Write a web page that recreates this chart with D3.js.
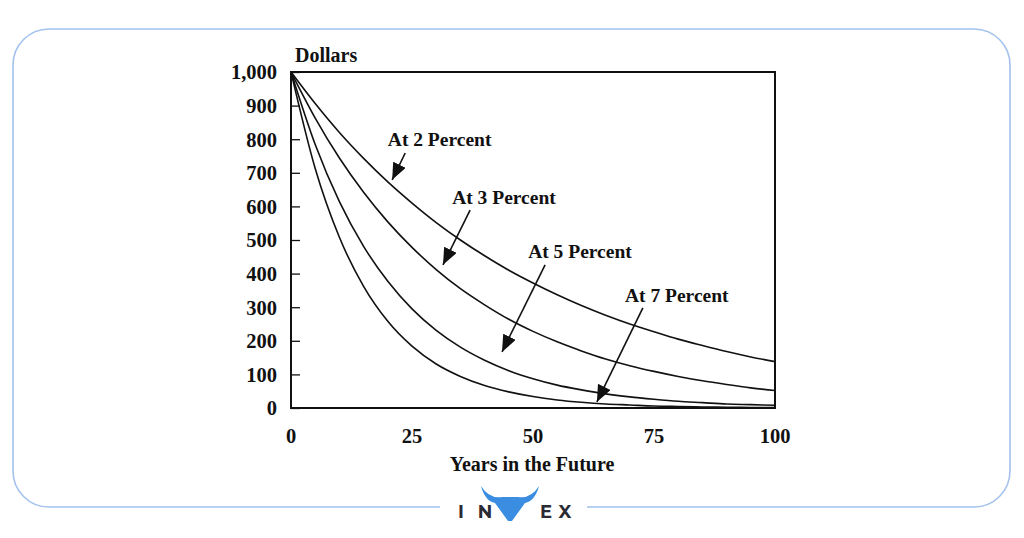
<!DOCTYPE html>
<html><head><meta charset="utf-8">
<script src="https://cdn.jsdelivr.net/npm/d3@7"></script>
<style>
html,body{margin:0;padding:0;background:#fff;}
svg{display:block;}
text{font-family:"Liberation Serif","Times New Roman",serif;font-weight:bold;fill:#111;}
</style></head>
<body>
<svg id="chart" width="1024" height="538"></svg>
<script>
// ---- data ----
const years = [0,5,10,15,20,25,30,35,40,45,50,55,60,65,70,75,80,85,90,95,100];
const at2 = [1000,906,820,743,673,610,552,500,453,410,372,337,305,276,250,227,205,186,168,152,138];
const at3 = [1000,863,744,642,554,478,412,355,307,264,228,197,170,146,126,109,94,81,70,60,52];
const at5 = [1000,784,614,481,377,295,231,181,142,111,87,68,54,42,33,26,20,16,12,10,8];
const at7 = [1000,713,508,362,258,184,131,94,67,48,34,24,17,12,9,6,4.5,3.2,2.3,1.6,1.2];
const seriesList = [at2, at3, at5, at7];
const yTicks = [0,100,200,300,400,500,600,700,800,900,1000];
const xTicks = [0,25,50,75,100];
const labels = ["At 2 Percent","At 3 Percent","At 5 Percent","At 7 Percent"];
const labelAt = [[20.0,780],[33.3,607],[49.0,446],[69.0,315]];      // [year, dollars] of label start
const arrowFrom = [[23.6,759],[37.0,589],[52.5,426],[72.7,298]];
const arrowTo = [[20.9,679],[31.4,426],[43.6,167],[63.2,18]];

const svg = d3.select("#chart");
const W = 1024, H = 538;
svg.append("rect").attr("width",W).attr("height",H).attr("fill","#fff");

// outer rounded frame
const frameColor = "#a3c2ec";
svg.append("rect").attr("x",13).attr("y",29).attr("width",997).attr("height",478)
  .attr("rx",36).attr("ry",36).attr("fill","none").attr("stroke",frameColor).attr("stroke-width",1.6);
svg.append("rect").attr("x",440).attr("y",500).attr("width",147).attr("height",14).attr("fill","#fff");

const m = {left:291, right:775, top:72, bottom:408};
const x = d3.scaleLinear().domain([0,100]).range([m.left, m.right]);
const y = d3.scaleLinear().domain([0,1000]).range([m.bottom, m.top]);

// y axis ticks (inward)
const yAxis = d3.axisRight(y).tickValues(yTicks).tickSize(9).tickFormat("");
const ga = svg.append("g").attr("transform",`translate(${m.left},0)`).call(yAxis);
ga.select(".domain").remove();
ga.selectAll("line").attr("stroke","#111").attr("stroke-width",1.3);

// y tick labels
svg.append("g").selectAll("text").data(yTicks).join("text")
  .attr("x", 277).attr("y", d=>y(d)).attr("dy","0.36em")
  .attr("text-anchor","end").style("font-size","20.5px")
  .text(d=>d3.format(",")(d));

// x tick labels
svg.append("g").selectAll("text").data(xTicks).join("text")
  .attr("x", d=>x(d)).attr("y", 443)
  .attr("text-anchor","middle").style("font-size","20.5px")
  .text(d=>d);

// axis titles
svg.append("text").attr("x",295).attr("y",62).style("font-size","20px").text("Dollars");
svg.append("text").attr("x",532).attr("y",471).attr("text-anchor","middle").style("font-size","20px").text("Years in the Future");

// curves
const line = d3.line().x((d,i)=>x(years[i])).y(d=>y(d)).curve(d3.curveMonotoneX);
svg.append("g").selectAll("path").data(seriesList).join("path")
  .attr("d", line).attr("fill","none").attr("stroke","#111").attr("stroke-width",1.6);

// plot border
svg.append("rect").attr("x",m.left).attr("y",m.top)
  .attr("width",m.right-m.left).attr("height",m.bottom-m.top)
  .attr("fill","none").attr("stroke","#111").attr("stroke-width",2);

// arrow marker
svg.append("defs").append("marker").attr("id","ah")
  .attr("viewBox","0 0 12 10").attr("refX",12).attr("refY",5)
  .attr("markerUnits","userSpaceOnUse").attr("markerWidth",17).attr("markerHeight",14)
  .attr("orient","auto")
  .append("path").attr("d","M0,0 L12,5 L0,10 Z").attr("fill","#111");

svg.append("g").selectAll("line").data(arrowFrom).join("line")
  .attr("x1",d=>x(d[0])).attr("y1",d=>y(d[1]))
  .attr("x2",(d,i)=>x(arrowTo[i][0])).attr("y2",(d,i)=>y(arrowTo[i][1]))
  .attr("stroke","#111").attr("stroke-width",1.6).attr("marker-end","url(#ah)");

svg.append("g").selectAll("text").data(labels).join("text")
  .attr("x",(d,i)=>x(labelAt[i][0])).attr("y",(d,i)=>y(labelAt[i][1]))
  .style("font-size","19.5px").text(d=>d);

// logo
const logo = svg.append("g");
const lf = "Montserrat, 'DejaVu Sans', Arial, sans-serif";
[["I",461],["N",485],["E",546],["X",565]].forEach(([ch,px])=>{
  logo.append("text").attr("x",px).attr("y",518).attr("text-anchor","middle")
    .style("font-family",lf).style("font-size","18px").style("font-weight","bold").style("fill","#2b2b33").text(ch);
});
logo.append("path").attr("d","M481,486 Q489,499 502,497 L518,497 Q531,499 539,486 Q535,501 525,503 L512,521 L508,521 L495,503 Q485,501 481,486 Z")
  .attr("fill","#3a8de0");
</script>
</body></html>
